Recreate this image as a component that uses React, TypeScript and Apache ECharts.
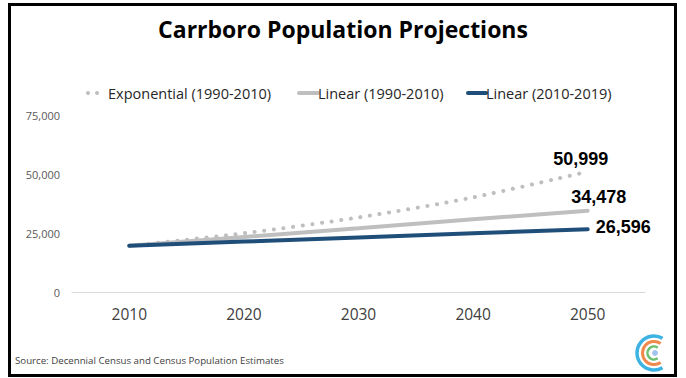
import React, { useEffect, useRef } from "react";
import * as echarts from "echarts";

const years = [2010, 2020, 2030, 2040, 2050];
const exponential = [19582, 24900, 31600, 40100, 50999];
const linear9010 = [19582, 23300, 27000, 30800, 34478];
const linear1019 = [19582, 21350, 23100, 24850, 26596];
const xTicks = [2010, 2020, 2030, 2040, 2050];
const seriesNames = ["Exponential (1990-2010)", "Linear (1990-2010)", "Linear (2010-2019)"];
const endLabels = ["50,999", "34,478", "26,596"];

const GRAY = "#bfbfbf";
const BLUE = "#1f4e79";

function pairs(vals: number[]) {
  return vals.map((v, i) => ({ value: [years[i], v] }));
}

export default function App() {
  const ref = useRef<HTMLDivElement>(null);
  useEffect(() => {
    if (!ref.current) return;
    const chart = echarts.init(ref.current, null, { renderer: "svg" });
    const labelBase = {
      show: true,
      fontFamily: "Liberation Sans, Arial, sans-serif",
      fontWeight: "bold",
      fontSize: 18,
      color: "#000000",
      opacity: 1,
      textBorderWidth: 0,
    };
    const last = years.length - 1;
    const endPoints = [
      { value: [years[last], exponential[last]], label: { ...labelBase, formatter: endLabels[0], position: "top", distance: 4, offset: [-7, 0] } },
      { value: [years[last], linear9010[last]], label: { ...labelBase, formatter: endLabels[1], position: "top", distance: 4, offset: [11, -1] } },
      { value: [years[last], linear1019[last]], label: { ...labelBase, formatter: endLabels[2], position: "right", distance: 5, offset: [3, -2] } },
    ];
    const legendFont = { fontFamily: "Open Sans", fontSize: 14.5, fill: "#262626" };
    chart.setOption({
      animation: false,
      backgroundColor: "#fff",
      title: {
        text: "Carrboro Population Projections",
        left: "center",
        top: 12,
        textStyle: { fontFamily: "Open Sans", fontWeight: "bold", fontSize: 23, color: "#000" },
      },
      grid: { left: 72, right: 41, top: 115, bottom: 86, containLabel: false },
      xAxis: {
        type: "value",
        min: 2005,
        max: 2055,
        axisLine: { show: true, lineStyle: { color: "#d9d9d9", width: 1 } },
        axisTick: { show: false },
        splitLine: { show: false },
        axisLabel: {
          customValues: xTicks,
          margin: 14,
          fontFamily: "Open Sans",
          fontSize: 15.5,
          color: "#404040",
          formatter: (v: number) => String(v),
        },
      },
      yAxis: {
        type: "value",
        min: 0,
        max: 75000,
        interval: 25000,
        axisLine: { show: false },
        axisTick: { show: false },
        splitLine: { show: false },
        axisLabel: {
          margin: 12,
          fontFamily: "Open Sans",
          fontSize: 11,
          color: "#595959",
          formatter: (v: number) => v.toLocaleString("en-US"),
        },
      },
      series: [
        {
          name: seriesNames[0],
          type: "line",
          smooth: 0.3,
          showSymbol: false,
          lineStyle: { color: GRAY, width: 4, type: [0.1, 9.6], cap: "round" },
          data: pairs(exponential),
        },
        {
          name: seriesNames[1],
          type: "line",
          showSymbol: false,
          lineStyle: { color: GRAY, width: 4, cap: "round" },
          data: pairs(linear9010),
        },
        {
          name: seriesNames[2],
          type: "line",
          showSymbol: false,
          lineStyle: { color: BLUE, width: 4, cap: "round" },
          data: pairs(linear1019),
        },
        {
          name: "end labels",
          type: "scatter",
          symbolSize: 0,
          itemStyle: { color: "#000000", opacity: 1 },
          emphasis: { disabled: true },
          z: 10,
          data: endPoints,
        },
      ],
      graphic: [
        {
          type: "rect",
          shape: { x: 9.5, y: 4.5, width: 666, height: 371 },
          style: { fill: "none", stroke: "#000", lineWidth: 3 },
          z: 100,
        },
        { type: "circle", shape: { cx: 88, cy: 93, r: 2 }, style: { fill: GRAY } },
        { type: "circle", shape: { cx: 97, cy: 93, r: 2 }, style: { fill: GRAY } },
        { type: "text", x: 108, y: 93, style: { text: seriesNames[0], ...legendFont, verticalAlign: "middle" } },
        { type: "line", shape: { x1: 299, y1: 93, x2: 318, y2: 93 }, style: { stroke: GRAY, lineWidth: 4, lineCap: "round" } },
        { type: "text", x: 318, y: 93, style: { text: seriesNames[1], ...legendFont, verticalAlign: "middle" } },
        { type: "line", shape: { x1: 468, y1: 93, x2: 486, y2: 93 }, style: { stroke: BLUE, lineWidth: 4, lineCap: "round" } },
        { type: "text", x: 486, y: 93, style: { text: seriesNames[2], ...legendFont, verticalAlign: "middle" } },
        {
          type: "text",
          x: 15,
          y: 360,
          style: {
            text: "Source: Decennial Census and Census Population Estimates",
            fontFamily: "Open Sans",
            fontSize: 9.7,
            fill: "#404040",
            verticalAlign: "middle",
          },
        },
        {
          type: "arc",
          shape: { cx: 654, cy: 353, r: 17, startAngle: (60 * Math.PI) / 180, endAngle: (300 * Math.PI) / 180, clockwise: true },
          style: { stroke: "#3db3e3", lineWidth: 3.5, fill: "none" },
        },
        {
          type: "arc",
          shape: { cx: 654, cy: 353, r: 11.5, startAngle: (55 * Math.PI) / 180, endAngle: (305 * Math.PI) / 180, clockwise: true },
          style: { stroke: "#ef8a4c", lineWidth: 3, fill: "none" },
        },
        {
          type: "arc",
          shape: { cx: 654, cy: 353, r: 6.5, startAngle: (55 * Math.PI) / 180, endAngle: (305 * Math.PI) / 180, clockwise: true },
          style: { stroke: "#6cc070", lineWidth: 2.5, fill: "none" },
        },
        { type: "circle", shape: { cx: 655, cy: 353, r: 3 }, style: { fill: "#a3c4ee" } },
      ],
    });
    return () => chart.dispose();
  }, []);
  return (
    <div
      ref={ref}
      style={{ position: "fixed", left: 0, top: 0, width: 686, height: 378 }}
    />
  );
}
